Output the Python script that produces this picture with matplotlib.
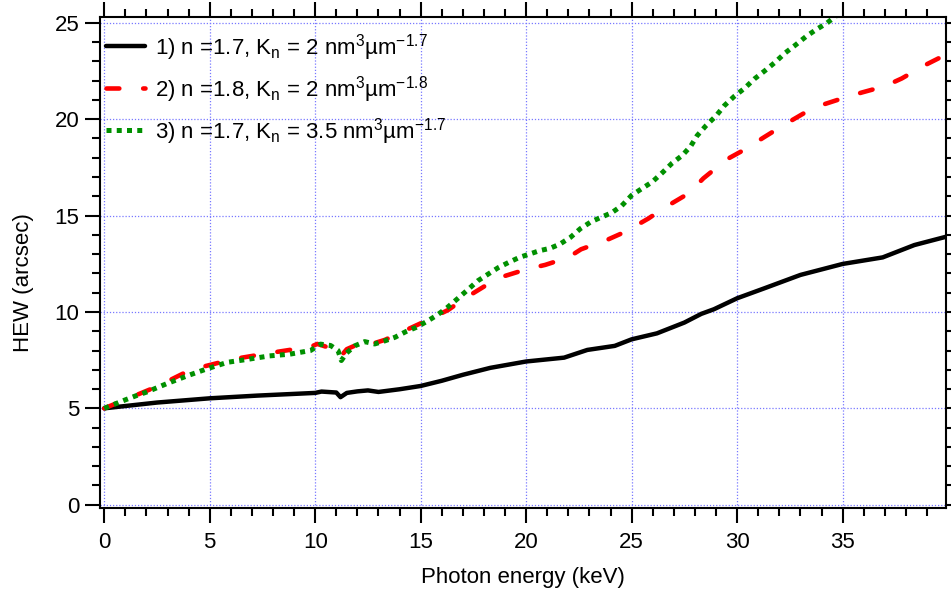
import matplotlib
matplotlib.use('Agg')
import matplotlib.pyplot as plt
from matplotlib.ticker import MultipleLocator

plt.rcParams.update({
    'font.family': ['Liberation Sans', 'DejaVu Sans'],
    'mathtext.fontset': 'custom',
    'mathtext.rm': 'Liberation Sans',
    'mathtext.it': 'Liberation Sans',
    'mathtext.default': 'regular',
})

# curve 1: n=1.7, Kn=2
black_x = [0, 2.5, 5, 7.25, 10, 10.3, 11.0, 11.2, 11.5, 12, 12.5, 13, 13.5, 14, 15,
           16, 17, 18.3, 20, 21.8, 22.9, 24.2, 25, 26.2, 27.5, 28.3, 28.9, 30, 31.3, 33.0,
           35, 36.9, 38.4, 39.9]
black_y = [5.0, 5.3, 5.52, 5.66, 5.8, 5.87, 5.82, 5.58, 5.8, 5.88, 5.93, 5.85, 5.92, 5.99, 6.16,
           6.43, 6.74, 7.1, 7.43, 7.63, 8.03, 8.24, 8.58, 8.89, 9.45, 9.9, 10.14, 10.71, 11.23, 11.92,
           12.49, 12.83, 13.47, 13.9]

# curve 2: n=1.8, Kn=2
red_x = [0, 0.6, 2.5, 4.1, 6.1, 7.9, 9.8, 10.1, 11.0, 11.2, 11.5, 12.5, 12.8, 13.3, 15.0,
         16.3, 17.1, 18.2, 19.0, 20.0, 20.9, 22.0, 22.6, 23.9, 24.7, 25.8, 26.5, 27.7, 28.4, 29.5,
         30.3, 31.3, 32.2, 33.2, 34.0, 35.1, 35.9, 37.0, 37.8, 38.9, 39.9]
red_y = [5.0, 5.27, 6.13, 7.0, 7.55, 7.88, 8.2, 8.34, 8.03, 7.68, 8.07, 8.55, 8.38, 8.55, 9.41,
         10.1, 10.71, 11.45, 11.87, 12.21, 12.44, 12.83, 13.25, 13.77, 14.16, 14.85, 15.37, 16.15, 16.93, 17.91,
         18.39, 19.08, 19.69, 20.33, 20.73, 21.12, 21.38, 21.71, 22.11, 22.8, 23.35]

# curve 3: n=1.7, Kn=3.5
green_x = [0, 1.0, 1.5, 2.0, 2.94, 3.92, 4.87, 5.85, 6.85, 7.83, 8.8, 9.78, 10.25, 10.73, 11.08,
           11.24, 11.48, 11.87, 12.35, 12.82, 13.3, 13.79, 14.3, 14.77, 15.28, 15.77, 16.25, 16.75, 17.22, 17.7,
           18.18, 18.68, 19.17, 19.68, 20.15, 20.64, 21.13, 21.6, 22.1, 22.57, 23.08, 23.55, 24.06, 24.53, 25.0,
           25.5, 25.97, 26.45, 26.92, 27.4, 27.8, 28.1, 28.53, 29.0, 29.4, 29.87, 30.35, 30.82, 31.3, 31.8,
           32.28, 32.77, 33.28, 33.75, 34.26, 34.8]
green_y = [5.0, 5.44, 5.65, 5.84, 6.27, 6.68, 7.05, 7.39, 7.55, 7.72, 7.81, 8.0, 8.33, 8.26, 8.0,
           7.48, 7.86, 8.24, 8.46, 8.34, 8.5, 8.69, 8.98, 9.19, 9.5, 9.83, 10.22, 10.69, 11.14, 11.61,
           11.95, 12.3, 12.57, 12.83, 13.0, 13.18, 13.3, 13.52, 13.87, 14.32, 14.68, 14.91, 15.15, 15.51, 16.05,
           16.41, 16.74, 17.22, 17.72, 18.12, 18.6, 19.14, 19.67, 20.17, 20.71, 21.19, 21.6, 22.09, 22.5, 22.95,
           23.44, 23.85, 24.3, 24.65, 24.99, 25.45]

labels = [
    r'1) n =1.7, K$_{n}$ = 2 nm$^{3}$µm$^{-1.7}$',
    r'2) n =1.8, K$_{n}$ = 2 nm$^{3}$µm$^{-1.8}$',
    r'3) n =1.7, K$_{n}$ = 3.5 nm$^{3}$µm$^{-1.7}$',
]

fig = plt.figure(figsize=(9.51, 5.91), dpi=100)
ax = fig.add_axes([100 / 951, 1 - 508 / 591, 846 / 951, 491 / 591])

ax.plot(black_x, black_y, color='black', lw=3.2, solid_capstyle='round', label=labels[0])
ax.plot(red_x, red_y, color='#ff0000', lw=3.3, dashes=(2.8, 5.2), dash_capstyle='round',
        label=labels[1])
ax.plot(green_x, green_y, color='#009000', lw=3.6, dashes=(1, 1.05), dash_capstyle='butt',
        label=labels[2])

ax.set_xlim(-0.2, 39.9)
ax.set_ylim(-0.17, 25.3)
ax.xaxis.set_major_locator(MultipleLocator(5))
ax.xaxis.set_minor_locator(MultipleLocator(1))
ax.yaxis.set_major_locator(MultipleLocator(5))
ax.yaxis.set_minor_locator(MultipleLocator(1))

ax.grid(True, which='major', color='#7878ff', linestyle=(0, (1, 1.5)), lw=0.9)
ax.set_axisbelow(True)

for s in ax.spines.values():
    s.set_linewidth(1.5)
ax.tick_params(which='both', direction='out', top=True, right=True, width=1.5, labelsize=16)
ax.tick_params(which='major', length=11)
ax.tick_params(which='minor', length=6)
ax.tick_params(axis='x', pad=6)
ax.tick_params(axis='y', pad=4)

ax.set_xlabel('Photon energy (keV)', fontsize=16)
ax.set_ylabel('HEW (arcsec)', fontsize=16)
ax.xaxis.set_label_coords(0.5, -0.12)
ax.yaxis.set_label_coords(-0.078, 0.46)

ax.legend(loc='upper left', bbox_to_anchor=(0.0, 0.982), frameon=False, fontsize=16,
          handlelength=1.75, handletextpad=0.45, borderaxespad=0, borderpad=0.27,
          labelspacing=0.5)

fig.savefig('out.png', dpi=100)
